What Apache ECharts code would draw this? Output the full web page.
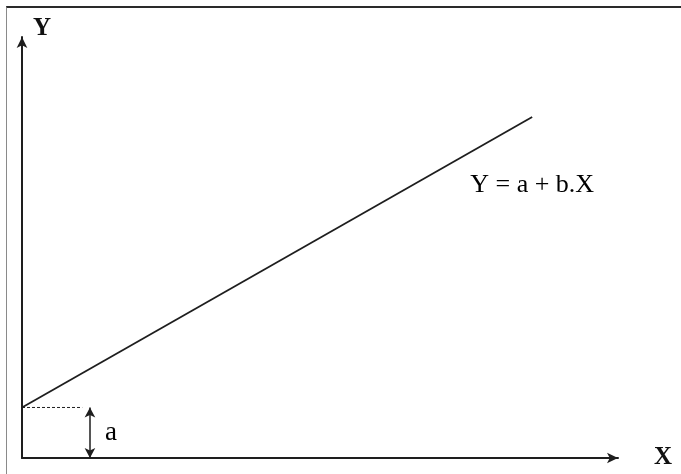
<!DOCTYPE html>
<html>
<head>
<meta charset="utf-8">
<script src="https://cdn.jsdelivr.net/npm/echarts@6/dist/echarts.min.js"></script>
<style>
  html, body { margin: 0; padding: 0; background: #fff; }
  #chart { position: absolute; left: 0; top: 0; width: 681px; height: 474px; }
  #frame { position: absolute; left: 6px; top: 6px; right: 0; bottom: 0;
           border-top: 2px solid #2a2a2a; border-left: 1px solid #8a8a8a; pointer-events: none; }
</style>
</head>
<body>
<div id="chart"></div>
<div id="frame"></div>
<script>
// Y = a + b.X schematic: intercept a, straight regression line
const intercept = 1.2;
const lineX = [0, 8.56];
const lineY = [intercept, 8.1];
const guideX = [0, 1.01];          // dashed guide at height a
const arrowX = 1.14;               // double arrow showing a
const axisMax = 10;
const equationText = 'Y = a + b.X';
const interceptText = 'a';

const serif = '"Liberation Serif", "DejaVu Serif", serif';
const ink = '#1e1e1e';

const chart = echarts.init(document.getElementById('chart'));

const axisCommon = {
  type: 'value', min: 0, max: axisMax,
  splitLine: { show: false }, axisTick: { show: false }, axisLabel: { show: false },
  axisLine: { show: true, onZero: false, symbol: ['none', 'arrow'], symbolSize: [8, 11],
              lineStyle: { color: ink, width: 2 } },
  nameTextStyle: { fontFamily: serif, fontSize: 25, fontWeight: 'bold', color: '#111' }
};

chart.setOption({
  animation: false,
  grid: { left: 22, right: 63, top: 37, bottom: 16 },
  xAxis: Object.assign({}, axisCommon, {
    name: 'X', nameLocation: 'end', nameGap: 36,
    nameTextStyle: Object.assign({}, axisCommon.nameTextStyle, { verticalAlign: 'middle', padding: [2, 0, 0, 0] })
  }),
  yAxis: Object.assign({}, axisCommon, {
    name: 'Y', nameLocation: 'end', nameGap: -4,
    nameTextStyle: Object.assign({}, axisCommon.nameTextStyle, { align: 'left', padding: [0, 0, 0, 11] })
  }),
  series: [
    {
      type: 'line', silent: true, symbol: 'none',
      data: lineX.map((x, i) => [x, lineY[i]]),
      lineStyle: { color: ink, width: 1.8 },
      endLabel: {
        show: true, formatter: equationText, fontFamily: serif, fontSize: 26, color: '#000',
        align: 'center', verticalAlign: 'middle', offset: [-8, 68]
      }
    },
    {
      type: 'line', silent: true, symbol: 'none',
      data: guideX.map(x => [x, intercept]),
      lineStyle: { color: ink, width: 1, type: [3, 2] }
    },
    {
      type: 'line', silent: true, symbol: 'none', data: [],
      markLine: {
        silent: true, symbol: ['arrow', 'arrow'], symbolSize: [8, 10],
        lineStyle: { color: ink, width: 1.5, type: 'solid' },
        label: { show: false },
        data: [[{ coord: [arrowX, intercept] }, { coord: [arrowX, 0] }]]
      },
      markPoint: {
        silent: true, symbol: 'circle', symbolSize: 0,
        label: { show: true, formatter: interceptText, fontFamily: serif, fontSize: 27,
                 color: '#000', position: 'right', distance: 15 },
        data: [{ coord: [arrowX, intercept / 2] }]
      }
    }
  ]
});
</script>
</body>
</html>
